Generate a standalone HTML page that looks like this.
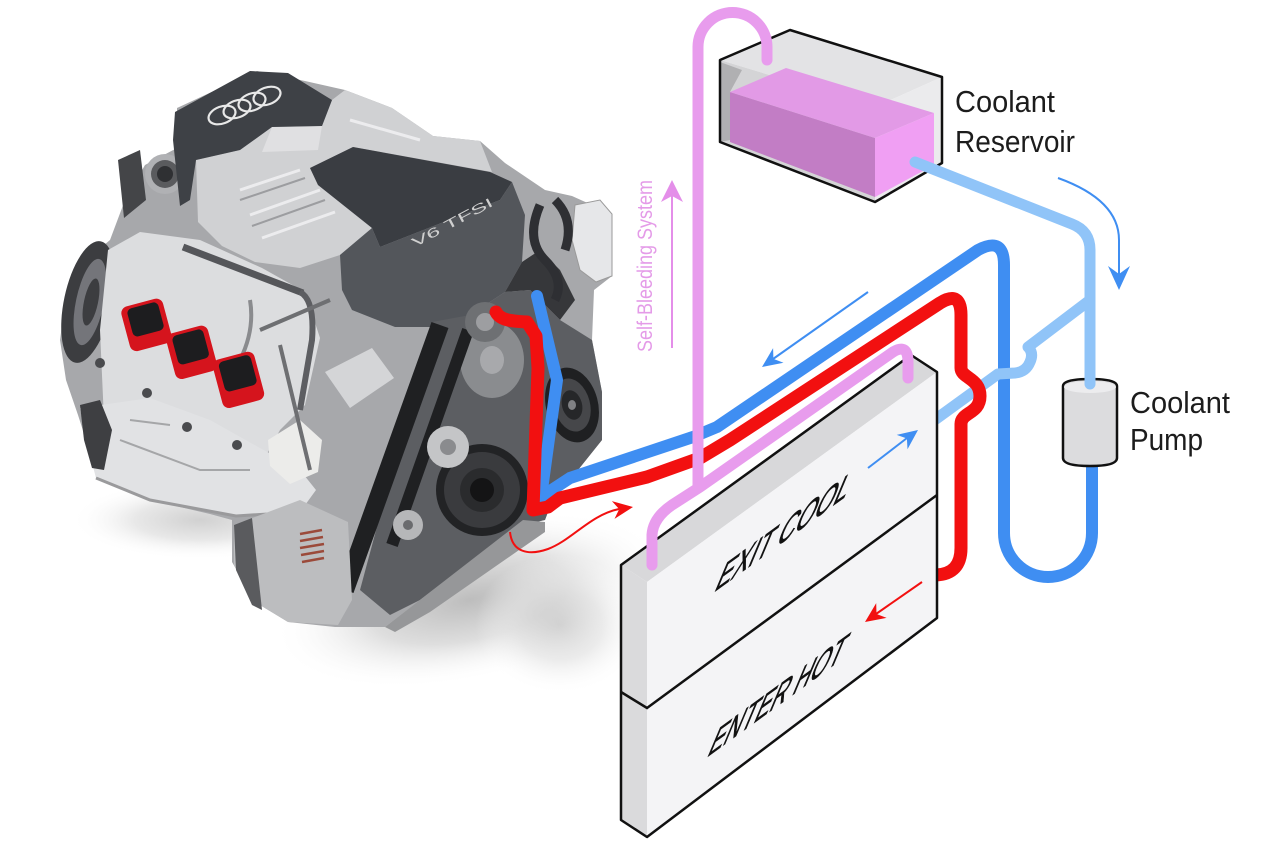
<!DOCTYPE html>
<html><head><meta charset="utf-8"><style>
html,body{margin:0;padding:0;background:#fff;width:1280px;height:841px;overflow:hidden}
svg{display:block}
text{font-family:"Liberation Sans",sans-serif}
</style></head><body>
<svg width="1280" height="841" viewBox="0 0 1280 841" xmlns="http://www.w3.org/2000/svg">
<defs>
<radialGradient id="sh" cx="0.5" cy="0.5" r="0.5">
<stop offset="0" stop-color="#bdbdbd"/>
<stop offset="0.5" stop-color="#dedede"/>
<stop offset="1" stop-color="#ffffff" stop-opacity="0"/>
</radialGradient>
</defs>
<rect width="1280" height="841" fill="#fff"/>

<!-- shadow -->
<ellipse cx="200" cy="520" rx="130" ry="40" fill="url(#sh)" opacity="0.7"/>
<ellipse cx="470" cy="600" rx="200" ry="80" transform="rotate(-12 470 600)" fill="url(#sh)"/>
<ellipse cx="560" cy="625" rx="85" ry="70" fill="url(#sh)" opacity="0.6"/>

<!-- ENGINE -->
<g>
<polygon fill="#a7a8ab" points="177,108 257,71 305,81 345,90 392,108 433,136 480,141 505,163 545,190 572,196 612,214 612,276 594,290 592,340 602,392 602,440 578,470 560,480 545,520 518,526 470,562 420,600 385,627 335,627 288,622 255,602 232,562 232,520 210,514 150,500 95,472 86,440 78,415 66,380 60,340 66,296 84,262 110,240 125,200 145,165 177,148"/>
<ellipse cx="88" cy="302" rx="24" ry="62" transform="rotate(12 88 302)" fill="#3c3d40"/>
<ellipse cx="90" cy="302" rx="14" ry="44" transform="rotate(12 90 302)" fill="#74757a"/>
<ellipse cx="91" cy="302" rx="7" ry="24" transform="rotate(12 91 302)" fill="#3c3d40"/>
<polygon fill="#dcdddf" points="108,250 140,232 200,240 262,268 305,292 320,338 305,405 280,430 258,470 200,455 150,440 104,420 100,330"/>
<polygon fill="#e1e2e4" points="80,408 150,398 210,420 260,448 300,470 316,490 300,512 236,516 150,500 96,478 86,440"/>
<polyline points="96,478 150,500 236,516 300,512" fill="none" stroke="#9a9a9c" stroke-width="3"/>
<path d="M120,440 L200,470 L250,470 M130,420 L170,425" stroke="#a5a6a8" stroke-width="2" fill="none"/>
<path d="M183,247 L303,293" stroke="#55565a" stroke-width="7" fill="none"/>
<path d="M300,292 Q315,300 312,340 L300,410" stroke="#5d5e62" stroke-width="6" fill="none"/>
<path d="M250,300 Q255,330 240,360" stroke="#8a8b8e" stroke-width="4" fill="none"/>
<circle cx="100" cy="363" r="5" fill="#4a4b4e"/>
<circle cx="147" cy="393" r="5" fill="#4a4b4e"/>
<circle cx="187" cy="427" r="5" fill="#4a4b4e"/>
<circle cx="237" cy="445" r="5" fill="#4a4b4e"/>
<polygon fill="#3e3f42" points="80,405 100,400 112,430 104,470 92,468 84,440"/>
<polygon fill="#444548" points="118,160 140,150 146,200 124,218"/>
<circle cx="165" cy="174" r="20" fill="#b0b1b4"/>
<circle cx="165" cy="174" r="14" fill="#5a5b5e"/>
<circle cx="165" cy="174" r="8" fill="#2f3033"/>
<polygon fill="#d0d1d3" points="196,160 240,150 272,127 322,126 332,100 345,90 392,108 433,136 480,141 492,172 353,147 310,168 318,185 372,228 340,255 300,268 255,262 222,246 198,222"/>
<path d="M240,190 L300,170 M250,215 L320,190 M262,238 L335,212 M350,120 L420,140" stroke="#ececee" stroke-width="3" fill="none"/>
<path d="M240,200 L305,178 M252,226 L325,200" stroke="#9c9da0" stroke-width="2" fill="none"/>
<path d="M272,127 L322,126 L318,150 L262,152 Z" fill="#e0e0e2"/>
<polygon fill="#3e4146" points="173,140 175,112 250,71 288,73 332,100 322,126 272,127 240,150 196,160 190,200 180,206"/>
<g fill="none" stroke="#e8e8e8" stroke-width="2.2">
<ellipse cx="222" cy="115" rx="14" ry="8.5" transform="rotate(-20 222 115)"/>
<ellipse cx="237" cy="109" rx="14" ry="8.5" transform="rotate(-20 237 109)"/>
<ellipse cx="252" cy="102" rx="14" ry="8.5" transform="rotate(-20 252 102)"/>
<ellipse cx="267" cy="96" rx="14" ry="8.5" transform="rotate(-20 267 96)"/>
</g>
<polygon fill="#3a3d42" points="310,168 353,147 490,172 512,182 500,200 380,247 372,228 318,185"/>
<polygon fill="#53565b" points="380,247 500,200 512,182 525,215 522,262 505,292 470,315 440,327 395,327 352,310 342,290 340,255 372,228"/>
<text x="452" y="227" font-size="13" fill="#cfcfcf" text-anchor="middle" textLength="90" lengthAdjust="spacingAndGlyphs" transform="rotate(-28 452 222)">V6 TFSI</text>
<polygon fill="#36373a" points="505,292 522,262 540,250 560,270 575,300 560,320 530,290"/>
<polygon fill="#e6e7e9" stroke="#9a9a9a" stroke-width="1" points="575,205 600,200 612,214 612,276 596,282 580,270 572,240"/>
<path d="M540,205 Q525,240 545,260 Q565,280 555,300 M555,200 Q575,220 565,250" stroke="#2e2f33" stroke-width="9" fill="none"/>
<polygon fill="#d4d5d7" points="325,372 372,348 394,378 350,408"/>
<polygon fill="#ececea" points="268,440 300,420 322,440 318,472 290,484 270,466"/>
<path d="M260,330 L330,300 M280,345 L310,470" stroke="#6e6f72" stroke-width="4" fill="none"/>
<polygon fill="#5c5e62" points="432,322 470,315 505,292 530,290 560,320 592,340 602,392 602,440 578,470 560,480 545,520 518,526 470,562 420,600 390,615 360,590"/>
<ellipse cx="492" cy="360" rx="32" ry="38" fill="#8a8c8f"/>
<ellipse cx="492" cy="360" rx="12" ry="14" fill="#a8a9ac"/>
<path d="M440,325 L345,590" stroke="#1f2022" stroke-width="18" fill="none"/>
<path d="M468,330 L392,545" stroke="#1f2022" stroke-width="12" fill="none"/>
<circle cx="482" cy="490" r="46" fill="#222325"/>
<circle cx="482" cy="490" r="38" fill="#3a3b3e"/>
<circle cx="482" cy="490" r="22" fill="#2a2b2d"/>
<circle cx="482" cy="490" r="12" fill="#141415"/>
<circle cx="448" cy="447" r="21" fill="#c4c5c7"/>
<circle cx="448" cy="447" r="8" fill="#8a8b8e"/>
<circle cx="408" cy="525" r="15" fill="#b6b7b9"/>
<circle cx="408" cy="525" r="5" fill="#6a6b6e"/>
<ellipse cx="572" cy="405" rx="26" ry="38" transform="rotate(-15 572 405)" fill="#1f2022"/>
<ellipse cx="572" cy="405" rx="18" ry="27" transform="rotate(-15 572 405)" fill="#46474a"/>
<ellipse cx="572" cy="405" rx="10" ry="15" transform="rotate(-15 572 405)" fill="#262729"/>
<ellipse cx="572" cy="405" rx="4" ry="5" fill="#808184"/>
<circle cx="485" cy="322" r="20" fill="#6e7073"/>
<circle cx="485" cy="322" r="9" fill="#9d9ea1"/>
<polygon fill="#bcbdbf" points="234,525 300,500 348,522 352,600 338,625 288,622 255,602 234,565"/>
<polygon fill="#5a5b5e" points="234,525 252,518 262,610 252,605 236,570"/>
<path d="M300,534 L322,530 M300,541 L323,537 M300,548 L324,544 M301,555 L324,551 M302,562 L324,558" stroke="#9b4a3a" stroke-width="2.5"/>
<polygon fill="#969799" points="385,627 523,520 545,522 545,532 430,612 395,632"/>
<g transform="rotate(-15 146 325)"><rect x="125" y="302" width="43" height="46" rx="7" fill="#d5141d"/><rect x="131" y="305" width="32" height="29" rx="5" fill="#1d1d1f"/></g>
<g transform="rotate(-15 191 352)"><rect x="170" y="329" width="43" height="47" rx="7" fill="#d5141d"/><rect x="176" y="332" width="32" height="30" rx="5" fill="#1d1d1f"/></g>
<g transform="rotate(-15 238 380)"><rect x="217" y="355" width="43" height="50" rx="7" fill="#d5141d"/><rect x="223" y="358" width="33" height="31" rx="5" fill="#1d1d1f"/></g>
</g>

<!-- RESERVOIR -->
<polygon fill="#e3e3e5" points="720,60 790,30 942,77 875,107"/>
<polygon fill="#d4d4d6" points="720,60 875,107 875,202 720,142"/>
<polygon fill="#ebebed" points="875,107 942,77 942,163 875,202"/>
<polygon fill="#b0b0b2" points="720,62 742,70 730,92 730,140 720,142"/>
<polygon fill="#c27dc5" points="730,92 875,138 875,197 730,142"/>
<polygon fill="#e29ae6" points="730,92 786,68 934,113 875,138"/>
<polygon fill="#f09ff3" points="875,138 934,113 934,165 875,197"/>
<polygon fill="none" stroke="#111" stroke-width="2.5" stroke-linejoin="round" points="720,60 790,30 942,77 942,163 875,202 720,142"/>

<!-- BLUE pipe -->
<path d="M537,296 L557,380 L541,497 L570,478 L600,468 L693,437 L717,427 L978,250 Q1004,236 1004,265 L1004,533 A44,44 0 0 0 1092,533 L1092,462" fill="none" stroke="#3f8ef2" stroke-width="12" stroke-linejoin="round" stroke-linecap="round"/>

<!-- PUMP -->
<path d="M1063,386 Q1063,379 1090,379 Q1117,379 1117,386 L1117,458 Q1117,466 1090,466 Q1063,466 1063,458 Z" fill="#dcdcde" stroke="#111" stroke-width="2.5"/>
<ellipse cx="1090" cy="387" rx="26" ry="6" fill="#ececee"/>

<!-- LIGHT BLUE -->
<path d="M915,162 L1072,224 Q1090,231 1090,250 L1090,384" fill="none" stroke="#90c4f8" stroke-width="11" stroke-linecap="round" stroke-linejoin="round"/>
<path d="M1090,300 L1028,347 Q1034,353 1030,362 Q1026,372 1015,373 L998,374 L936,419" fill="none" stroke="#90c4f8" stroke-width="11" stroke-linecap="round" stroke-linejoin="round"/>

<!-- RED pipe -->
<path d="M496,312 C500,320 510,321 527,322 L536,336 L538,368 L533,510 L548,507 L560,498 L647,477 L700,458 L730,440 L940,303 Q961,290 961,315 L961,368 C961,378 980,378 980,396 C980,414 961,412 961,424 L961,548 Q961,574 936,575" fill="none" stroke="#f21010" stroke-width="13" stroke-linejoin="round" stroke-linecap="round"/>

<!-- RADIATOR -->
<polygon fill="#d8d8da" points="621,565 911,355 937,372 647,582"/>
<polygon fill="#dadadc" points="621,565 647,582 647,837 621,820"/>
<polygon fill="#f4f4f6" points="647,582 937,372 937,618 647,837"/>
<polygon fill="none" stroke="#111" stroke-width="2.5" stroke-linejoin="round" points="621,565 911,355 937,372 937,618 647,837 621,820"/>
<polyline fill="none" stroke="#111" stroke-width="2.5" points="621,692 647,708 937,495"/>
<text transform="matrix(0.809,-0.588,-0.387,0.921,713,593)" font-size="46" fill="#111" stroke="#111" stroke-width="1" textLength="163" lengthAdjust="spacingAndGlyphs">EXIT COOL</text>
<text transform="matrix(0.809,-0.588,-0.387,0.921,706,758)" font-size="46" fill="#111" stroke="#111" stroke-width="1" textLength="165" lengthAdjust="spacingAndGlyphs">ENTER HOT</text>

<!-- PINK pipes -->
<path d="M698,487 L698,47 A34.5,34.5 0 0 1 767,47 L767,60" fill="none" stroke="#e89ced" stroke-width="11" stroke-linecap="round" stroke-linejoin="round"/>
<path d="M652,565 L652,535 Q653,518 672,505 L700,487 L893,352 Q908,343 908,362 L908,378" fill="none" stroke="#e89ced" stroke-width="11" stroke-linecap="round" stroke-linejoin="round"/>

<!-- ARROWS -->
<g fill="none" stroke-width="2">
<path d="M868,292 L773,359" stroke="#3f8ef2"/>
<path d="M868,468 L907,438" stroke="#3f8ef2"/>
<path d="M922,582 L876,614" stroke="#f21010"/>
<path d="M1058,178 Q1119,200 1119,240 L1119,274" stroke="#3f8ef2"/>
<path d="M672,348 L672,196" stroke="#e48ee9"/>
<path d="M510,532 C512,552 528,556 548,549 C572,540 590,515 619,509" stroke="#f21010"/>
</g>
<polygon fill="#3f8ef2" points="762,367 783.5,362.7 773.4,358.9 773.1,348.1"/>
<polygon fill="#3f8ef2" points="918,430 907.5,449.3 906.9,438.5 896.7,434.9"/>
<polygon fill="#f21010" points="865,622 886.6,617.9 876.5,614 876.2,603.1"/>
<polygon fill="#3f8ef2" points="1119,290 1130,266 1119,274 1108,266"/>
<polygon fill="#e48ee9" points="672,180 683,202 672,196 661,202"/>
<polygon fill="#f21010" points="633,507 614.5,518.9 619.2,509.1 611.9,501.1"/>

<!-- TEXT -->
<text transform="translate(652,352) rotate(-90)" font-size="21" fill="#e49be8" textLength="172" lengthAdjust="spacingAndGlyphs">Self-Bleeding System</text>
<text x="955" y="112" font-size="31" fill="#1c1c1c" textLength="100" lengthAdjust="spacingAndGlyphs">Coolant</text>
<text x="955" y="152" font-size="31" fill="#1c1c1c" textLength="120" lengthAdjust="spacingAndGlyphs">Reservoir</text>
<text x="1130" y="413" font-size="31" fill="#1c1c1c" textLength="100" lengthAdjust="spacingAndGlyphs">Coolant</text>
<text x="1130" y="450" font-size="31" fill="#1c1c1c" textLength="73" lengthAdjust="spacingAndGlyphs">Pump</text>
</svg>
</body></html>
